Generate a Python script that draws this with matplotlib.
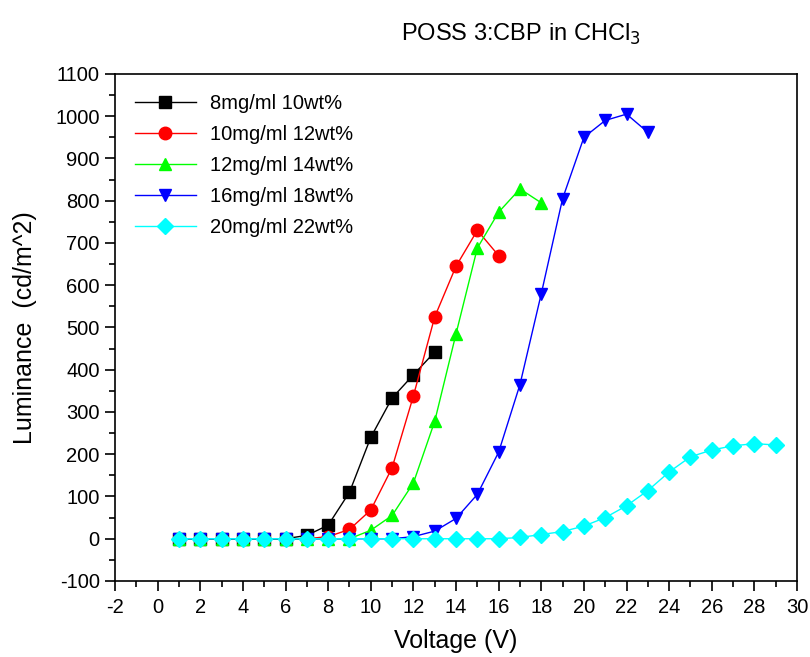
import matplotlib
matplotlib.use("Agg")
import matplotlib.pyplot as plt
from matplotlib.ticker import MultipleLocator

plt.rcParams['font.family'] = ['Liberation Sans', 'DejaVu Sans']
plt.rcParams['axes.unicode_minus'] = False

labels = ["8mg/ml 10wt%", "10mg/ml 12wt%", "12mg/ml 14wt%", "16mg/ml 18wt%", "20mg/ml 22wt%"]
colors = ["black", "red", "#00ff00", "blue", "cyan"]
markers = ["s", "o", "^", "v", "D"]

v_black = list(range(1, 14))
l_black = [0, 0, 0, 0, 0, 0, 8, 32, 110, 240, 333, 388, 442]
v_red = list(range(1, 17))
l_red = [0, 0, 0, 0, 0, 0, 0, 5, 22, 68, 168, 338, 525, 645, 730, 670]
v_green = list(range(1, 19))
l_green = [0, 0, 0, 0, 0, 0, 0, 0, 0, 20, 55, 132, 278, 485, 688, 773, 828, 795]
v_blue = list(range(1, 24))
l_blue = [0, 0, 0, 0, 0, 0, 0, 0, 0, 0, 0, 5, 18, 48, 105, 205, 365, 580, 805, 950, 990, 1005, 962]
v_cyan = list(range(1, 30))
l_cyan = [0, 0, 0, 0, 0, 0, 0, 0, 0, 0, 0, 0, 0, 0, 0, 0, 3, 10, 17, 30, 50, 78, 114, 158, 194, 210, 220, 225, 222]

series = [(v_black, l_black), (v_red, l_red), (v_green, l_green), (v_blue, l_blue), (v_cyan, l_cyan)]

fig = plt.figure(figsize=(8.1, 6.57), dpi=100)
ax = fig.add_axes([0.142, 0.1157, 0.842, 0.7717])

for (x, y), c, m, lab in zip(series, colors, markers, labels):
    ms = 8 if m in ("D", "s") else 9
    ax.plot(x, y, color=c, marker=m, markersize=ms, linewidth=1.0, label=lab)

ax.set_xlim(-2, 30)
ax.set_ylim(-100, 1100)
ax.xaxis.set_major_locator(MultipleLocator(2))
ax.xaxis.set_minor_locator(MultipleLocator(1))
ax.yaxis.set_major_locator(MultipleLocator(100))
ax.yaxis.set_minor_locator(MultipleLocator(50))
ax.tick_params(which='both', direction='out', top=False, right=False, labelsize=14.5)
ax.tick_params(which='major', length=7, width=1.2)
ax.tick_params(which='minor', length=4, width=1.2)
ax.tick_params(axis='x', which='major', pad=5)
ax.tick_params(axis='y', which='major', pad=4)
for s in ax.spines.values():
    s.set_linewidth(1.2)

ax.set_xlabel("Voltage (V)", fontsize=18, labelpad=9)
ax.set_ylabel("Luminance  (cd/m^2)", fontsize=18, labelpad=13)

leg = ax.legend(loc='upper left', bbox_to_anchor=(0.0, 1.0), frameon=False, fontsize=14.5,
                handlelength=3.0, labelspacing=0.6, borderaxespad=0.6, handletextpad=0.7)

fig.text(0.643, 0.948, "POSS 3:CBP in CHCl$_3$", fontsize=17, ha='center', va='center')

fig.savefig("out.png", dpi=100)
